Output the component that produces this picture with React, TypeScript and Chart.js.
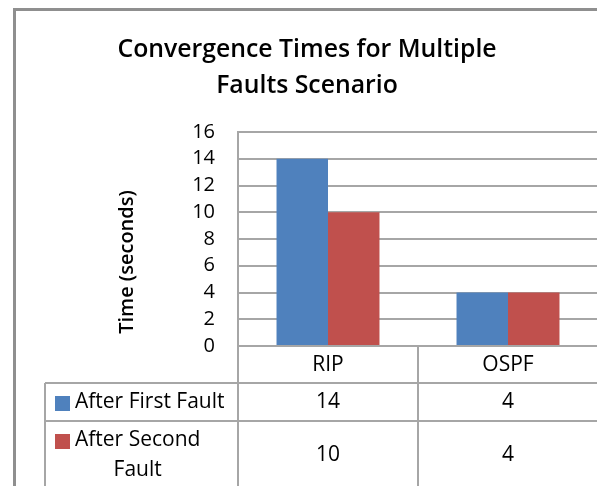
import React, { useEffect, useRef } from "react";
import { Chart, registerables } from "chart.js";

Chart.register(...registerables);

const categories = ["RIP", "OSPF"];
const seriesNames = ["After First Fault", "After Second Fault"];
const seriesLabelLines = [["After First Fault"], ["After Second", "Fault"]];
const afterFirstFault = [14, 4];
const afterSecondFault = [10, 4];
const seriesColors = ["#4F81BD", "#C0504D"];
const yMin = 0;
const yMax = 16;
const yStep = 2;
const chartTitleLines = ["Convergence Times for Multiple", "Faults Scenario"];
const yAxisTitle = "Time (seconds)";

const FONT = "'Open Sans', Lato, 'Liberation Sans', sans-serif";
const LINE = "#a6a6a6";

const decorPlugin = {
  id: "decor",
  beforeDraw(chart: any) {
    const ctx = chart.ctx;
    ctx.save();
    ctx.fillStyle = "#ffffff";
    ctx.fillRect(0, 0, chart.width, chart.height);
    // outer chart border
    ctx.strokeStyle = "#8f8f8f";
    ctx.lineWidth = 3;
    ctx.beginPath();
    ctx.moveTo(14.5, chart.height);
    ctx.lineTo(14.5, 9.5);
    ctx.lineTo(chart.width, 9.5);
    ctx.stroke();
    ctx.restore();
  },
  afterDraw(chart: any) {
    const ctx = chart.ctx;
    const xs = chart.scales.x;
    const area = chart.chartArea;
    ctx.save();
    // title
    ctx.fillStyle = "#000";
    ctx.font = `600 24.8px ${FONT}`;
    ctx.textAlign = "center";
    ctx.textBaseline = "alphabetic";
    ctx.fillText(chartTitleLines[0], 307, 57);
    ctx.fillText(chartTitleLines[1], 307, 93);

    // y-axis title
    ctx.save();
    ctx.translate(127, 262);
    ctx.rotate(-Math.PI / 2);
    ctx.font = `600 20px ${FONT}`;
    ctx.textBaseline = "middle";
    ctx.fillText(yAxisTitle, 0, 0);
    ctx.restore();

    // data table
    const n = categories.length;
    const catW = (xs.right - xs.left) / n;
    const bounds: number[] = [];
    for (let i = 0; i < n; i++) bounds.push(xs.getPixelForValue(i) - catW / 2);
    bounds.push(xs.getPixelForValue(n - 1) + catW / 2);
    const headerBottom = 383;
    const rowBottoms = [421, 489];
    const tableLeft = 45;

    ctx.strokeStyle = LINE;
    ctx.lineWidth = 2;
    ctx.beginPath();
    bounds.forEach((bx) => {
      ctx.moveTo(Math.round(bx), area.bottom);
      ctx.lineTo(Math.round(bx), chart.height);
    });
    ctx.moveTo(tableLeft, headerBottom);
    ctx.lineTo(tableLeft, chart.height);
    ctx.moveTo(tableLeft, headerBottom);
    ctx.lineTo(chart.width, headerBottom);
    ctx.moveTo(tableLeft, rowBottoms[0]);
    ctx.lineTo(chart.width, rowBottoms[0]);
    ctx.stroke();

    const rowTops = [headerBottom, rowBottoms[0]];
    ctx.font = `21px ${FONT}`;
    ctx.fillStyle = "#000";
    chart.data.datasets.forEach((ds: any, r: number) => {
      const top = rowTops[r];
      const mid = (top + rowBottoms[r]) / 2;
      // legend key
      ctx.fillStyle = ds.backgroundColor;
      ctx.fillRect(55, top + 13, 15, 15);
      // label lines
      ctx.fillStyle = "#000";
      const lines = seriesLabelLines[r];
      const widths = lines.map((l) => ctx.measureText(l).width);
      const maxW = Math.max(...widths);
      const lh = 30;
      const firstY = lines.length === 1 ? mid : top + 19;
      lines.forEach((l, k) => {
        ctx.textAlign = "left";
        ctx.textBaseline = "middle";
        ctx.fillText(l, 75 + (maxW - widths[k]) / 2, firstY + k * lh);
      });
      // values
      ds.data.forEach((v: number, i: number) => {
        ctx.textAlign = "center";
        ctx.textBaseline = "middle";
        ctx.fillText(String(v), xs.getPixelForValue(i), mid);
      });
    });
    ctx.restore();
  },
};

export default function App() {
  const ref = useRef<HTMLCanvasElement | null>(null);
  useEffect(() => {
    if (!ref.current) return;
    const chart = new Chart(ref.current, {
      type: "bar",
      data: {
        labels: categories,
        datasets: [
          { label: seriesNames[0], data: afterFirstFault, backgroundColor: seriesColors[0] },
          { label: seriesNames[1], data: afterSecondFault, backgroundColor: seriesColors[1] },
        ],
      },
      options: {
        responsive: false,
        animation: false,
        events: [],
        layout: { padding: { left: 0, top: 132, right: 2, bottom: 0 } },
        datasets: { bar: { categoryPercentage: 0.572, barPercentage: 1 } },
        plugins: { legend: { display: false }, title: { display: false }, tooltip: { enabled: false } },
        scales: {
          x: {
            grid: { display: false, drawTicks: false },
            border: { display: false },
            ticks: { color: "#000", font: { family: FONT, size: 21 }, padding: 6 },
            afterFit: (s: any) => { s.height = 140; },
          },
          y: {
            min: yMin,
            max: yMax,
            ticks: { stepSize: yStep, autoSkip: false, color: "#000", font: { family: FONT, size: 20 }, padding: 23 },
            grid: { color: LINE, lineWidth: 2, drawTicks: false },
            border: { display: true, color: LINE, width: 2 },
            afterFit: (s: any) => { s.width = 238; },
          },
        },
      },
      plugins: [decorPlugin],
    });
    return () => chart.destroy();
  }, []);
  return (
    <div style={{ position: "fixed", left: 0, top: 0, width: 597, height: 486, overflow: "hidden", background: "#fff" }}>
      <canvas ref={ref} width={600} height={486} style={{ display: "block" }} />
    </div>
  );
}
